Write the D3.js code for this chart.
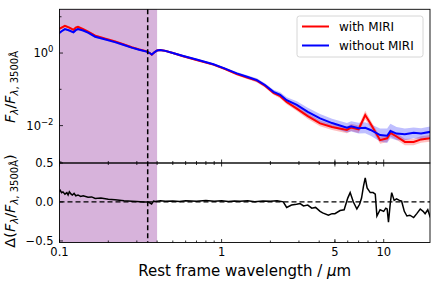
<!DOCTYPE html>
<html lang="en">
<head>
<meta charset="utf-8">
<title>SED with / without MIRI</title>
<script src="https://cdn.jsdelivr.net/npm/d3@7"></script>
<style>
  body { margin: 0; background: #fff; }
  text { font-family: "DejaVu Sans", sans-serif; fill: #000; }
</style>
</head>
<body>
<script>
// wavelength grid (micron) and log10 of normalised flux
var lamSed = [0.099, 0.103, 0.108, 0.115, 0.122, 0.126, 0.130, 0.140, 0.150, 0.166, 0.19, 0.22, 0.25, 0.279, 0.31, 0.345, 0.36, 0.371, 0.385, 0.40, 0.417, 0.45, 0.50, 0.58, 0.70, 0.89, 1.05, 1.24, 1.45, 1.65, 1.85, 2.09, 2.30, 2.52, 2.91, 3.4, 4.05, 4.8, 5.93, 6.3, 7.0, 7.69, 8.3, 9.5, 10.5, 11.0, 12.0, 13.5, 15.3, 17, 19.4];
var logWithout = [0.54, 0.60, 0.66, 0.62, 0.57, 0.63, 0.66, 0.62, 0.56, 0.45, 0.38, 0.30, 0.22, 0.15, 0.09, 0.04, 0.00, -0.04, 0.02, 0.07, 0.083, 0.06, 0.00, -0.083, -0.18, -0.31, -0.43, -0.56, -0.66, -0.745, -0.88, -1.07, -1.15, -1.30, -1.43, -1.62, -1.80, -1.93, -2.06, -2.02, -2.07, -2.06, -2.12, -2.26, -2.28, -2.15, -2.22, -2.24, -2.20, -2.22, -2.17];
var logWith = [0.66, 0.70, 0.75, 0.70, 0.64, 0.70, 0.72, 0.66, 0.59, 0.48, 0.40, 0.32, 0.235, 0.16, 0.10, 0.045, 0.00, -0.045, 0.02, 0.07, 0.083, 0.06, 0.00, -0.09, -0.19, -0.32, -0.44, -0.58, -0.68, -0.76, -0.90, -1.10, -1.19, -1.35, -1.53, -1.74, -1.94, -2.04, -2.12, -2.05, -2.10, -1.71, -1.95, -2.40, -2.35, -2.20, -2.30, -2.45, -2.45, -2.38, -2.35];
// half-width of the uncertainty bands (dex)
var errWithout = [0.03, 0.03, 0.03, 0.03, 0.03, 0.03, 0.03, 0.03, 0.03, 0.03, 0.03, 0.03, 0.03, 0.03, 0.03, 0.03, 0.03, 0.03, 0.03, 0.03, 0.03, 0.03, 0.03, 0.03, 0.03, 0.03, 0.03, 0.04, 0.04, 0.05, 0.05, 0.06, 0.07, 0.08, 0.10, 0.11, 0.12, 0.12, 0.13, 0.14, 0.15, 0.15, 0.16, 0.18, 0.20, 0.20, 0.18, 0.16, 0.15, 0.15, 0.15];
var errWith = [0.03, 0.03, 0.03, 0.03, 0.03, 0.03, 0.03, 0.03, 0.03, 0.03, 0.03, 0.03, 0.03, 0.03, 0.03, 0.03, 0.03, 0.03, 0.03, 0.03, 0.03, 0.03, 0.03, 0.03, 0.03, 0.03, 0.03, 0.04, 0.04, 0.05, 0.05, 0.05, 0.06, 0.06, 0.07, 0.08, 0.08, 0.08, 0.09, 0.10, 0.10, 0.12, 0.10, 0.10, 0.10, 0.10, 0.09, 0.09, 0.09, 0.09, 0.09];
// residual panel
var lamDelta = [0.099, 0.101, 0.103, 0.105, 0.108, 0.111, 0.113, 0.115, 0.118, 0.12, 0.123, 0.126, 0.13, 0.135, 0.14, 0.15, 0.158, 0.166, 0.18, 0.2, 0.22, 0.25, 0.28, 0.3, 0.33, 0.35, 0.36, 0.37, 0.38, 0.39, 0.42, 0.45, 0.5, 0.55, 0.6, 0.7, 0.8, 0.9, 1.0, 1.1, 1.2, 1.3, 1.45, 1.6, 1.8, 2.0, 2.2, 2.4, 2.52, 2.7, 2.9, 3.05, 3.2, 3.4, 3.6, 3.8, 4.05, 4.2, 4.56, 4.8, 5.0, 5.38, 5.7, 6.0, 6.21, 6.5, 6.83, 7.1, 7.3, 7.5, 7.69, 7.9, 8.26, 8.6, 8.87, 9.08, 9.5, 10.0, 10.3, 10.5, 10.7, 11.0, 11.2, 11.6, 12.0, 12.5, 12.9, 13.4, 13.9, 14.5, 15.3, 16, 16.8, 17.5, 18, 18.7, 19.4];
var delta = [0.13, 0.15, 0.12, 0.13, 0.10, 0.12, 0.09, 0.13, 0.10, 0.09, 0.11, 0.08, 0.09, 0.07, 0.08, 0.06, 0.065, 0.045, 0.05, 0.035, 0.03, 0.015, 0.01, 0.005, 0.0, 0.0, -0.01, -0.025, 0.01, 0.005, 0.015, 0.008, 0.012, 0.006, 0.015, 0.008, 0.018, 0.008, 0.015, 0.005, 0.012, 0.008, 0.015, 0.003, 0.012, 0.008, 0.015, 0.002, -0.07, -0.04, -0.03, -0.02, -0.05, -0.04, -0.08, -0.07, -0.12, -0.14, -0.17, -0.15, -0.15, -0.11, -0.10, 0.05, 0.12, 0.0, -0.09, -0.03, 0.05, 0.2, 0.31, 0.18, 0.12, 0.12, 0.10, -0.18, -0.1, -0.12, -0.08, -0.09, -0.26, 0.0, 0.12, 0.02, 0.04, 0.02, 0.01, -0.12, -0.18, -0.17, -0.2, -0.15, -0.09, -0.12, -0.15, -0.1, -0.2];
var lamRef = 0.35;          // 3500 A normalisation
var shadeRange = [0.1, 0.40];
var xTicks = [0.1, 1, 5, 10];
var xTickLabels = ["0.1", "1", "5", "10"];
var yBotTicks = [0.5, 0.0, -0.5];

var W = 436, H = 283;
var L = 59.5, R = 430, T = 9.3, M = 163, B = 242.5;

var svg = d3.select("body").append("svg").attr("width", W).attr("height", H);

var x = d3.scaleLog().domain([0.1, 19.3]).range([L, R]);
var yTop = d3.scaleLog().domain([Math.pow(10, -3.03), Math.pow(10, 1.205)]).range([M, T]);
var yBot = d3.scaleLinear().domain([-0.52, 0.5]).range([B, M]);

var defs = svg.append("defs");
defs.append("clipPath").attr("id", "clipTop").append("rect")
  .attr("x", L).attr("y", T).attr("width", R - L).attr("height", M - T);
defs.append("clipPath").attr("id", "clipBot").append("rect")
  .attr("x", L).attr("y", M).attr("width", R - L).attr("height", B - M);

// shaded rest-frame UV region
svg.append("rect").attr("x", x(shadeRange[0])).attr("y", T)
  .attr("width", x(shadeRange[1]) - x(shadeRange[0])).attr("height", B - T)
  .attr("fill", "#d7b3db");

var gTop = svg.append("g").attr("clip-path", "url(#clipTop)");
var sed = lamSed.map(function(l, i) {
  return { l: l, a: logWith[i], b: logWithout[i], ea: errWith[i], eb: errWithout[i] };
});

function band(key, err) {
  return d3.area()
    .x(function(d) { return x(d.l); })
    .y0(function(d) { return yTop(Math.pow(10, d[key] - d[err])); })
    .y1(function(d) { return yTop(Math.pow(10, d[key] + d[err])); });
}
function line(key) {
  return d3.line()
    .x(function(d) { return x(d.l); })
    .y(function(d) { return yTop(Math.pow(10, d[key])); });
}

gTop.append("path").datum(sed).attr("d", band("a", "ea")).attr("fill", "red").attr("opacity", 0.25);
gTop.append("path").datum(sed).attr("d", band("b", "eb")).attr("fill", "blue").attr("opacity", 0.25);
gTop.append("path").datum(sed).attr("d", line("a")).attr("fill", "none").attr("stroke", "red").attr("stroke-width", 2);
gTop.append("path").datum(sed).attr("d", line("b")).attr("fill", "none").attr("stroke", "blue").attr("stroke-width", 2);

// residuals
var gBot = svg.append("g").attr("clip-path", "url(#clipBot)");
gBot.append("line").attr("x1", L).attr("x2", R).attr("y1", yBot(0)).attr("y2", yBot(0))
  .attr("stroke", "#000").attr("stroke-width", 1.3).attr("stroke-dasharray", "5,3");
gBot.append("path").datum(lamDelta.map(function(l, i) { return [l, delta[i]]; }))
  .attr("d", d3.line().x(function(d) { return x(d[0]); }).y(function(d) { return yBot(d[1]); }))
  .attr("fill", "none").attr("stroke", "#000").attr("stroke-width", 1.5);

// 3500 A marker
svg.append("line").attr("x1", x(lamRef)).attr("x2", x(lamRef)).attr("y1", T).attr("y2", B)
  .attr("stroke", "#000").attr("stroke-width", 1.5).attr("stroke-dasharray", "5,3");

// ticks (inward)
var minorX = [];
[0.1, 1, 10].forEach(function(dec) {
  for (var k = 2; k <= 9; k++) { var v = dec * k; if (v < 19.3) minorX.push(v); }
});
var tk = svg.append("g").attr("stroke", "#000").attr("stroke-width", 0.8);
function xTickMarks(yEdge, dir) {
  xTicks.forEach(function(v) {
    tk.append("line").attr("x1", x(v)).attr("x2", x(v)).attr("y1", yEdge).attr("y2", yEdge + dir * 3.5);
  });
  minorX.forEach(function(v) {
    tk.append("line").attr("x1", x(v)).attr("x2", x(v)).attr("y1", yEdge).attr("y2", yEdge + dir * 2);
  });
}
xTickMarks(M, -1);
xTickMarks(M, 1);
xTickMarks(B, -1);

[10, 1, 0.1, 0.01, 0.001].forEach(function(v) {
  var major = (v === 1 || v === 0.01);
  tk.append("line").attr("x1", L).attr("x2", L + (major ? 3.5 : 2)).attr("y1", yTop(v)).attr("y2", yTop(v));
});
yBotTicks.forEach(function(v) {
  tk.append("line").attr("x1", L).attr("x2", L + 3.5).attr("y1", yBot(v)).attr("y2", yBot(v));
});

// frames
svg.append("rect").attr("x", L).attr("y", T).attr("width", R - L).attr("height", M - T)
  .attr("fill", "none").attr("stroke", "#000").attr("stroke-width", 0.9);
svg.append("rect").attr("x", L).attr("y", M).attr("width", R - L).attr("height", B - M)
  .attr("fill", "none").attr("stroke", "#000").attr("stroke-width", 0.9);

// tick labels
var fs = 11.5;
xTicks.forEach(function(v, i) {
  svg.append("text").attr("x", x(v)).attr("y", 256).attr("text-anchor", "middle")
    .attr("font-size", fs).text(xTickLabels[i]);
});
var topLab = [["0", 1], ["\u22122", 0.01]];
topLab.forEach(function(p) {
  var t = svg.append("text").attr("x", L - 6).attr("y", yTop(p[1]) + 4).attr("text-anchor", "end").attr("font-size", fs);
  t.append("tspan").text("10");
  t.append("tspan").attr("font-size", 8.5).attr("dy", -5).text(p[0]);
});
yBotTicks.forEach(function(v) {
  svg.append("text").attr("x", L - 6).attr("y", yBot(v) + 4).attr("text-anchor", "end")
    .attr("font-size", fs).text(d3.format(".1f")(v).replace("-", "\u2212"));
});

// axis labels
var xl = svg.append("text").attr("x", (L + R) / 2).attr("y", 276).attr("text-anchor", "middle")
  .attr("font-size", 15);
xl.append("tspan").text("Rest frame wavelength / ");
xl.append("tspan").attr("font-style", "italic").text("\u03bc");
xl.append("tspan").text("m");

function fluxLabel(t) {
  t.append("tspan").attr("font-style", "italic").text("F");
  t.append("tspan").attr("font-style", "italic").attr("font-size", 10).attr("dy", 3).text("\u03bb");
  t.append("tspan").attr("dy", -3).text("/");
  t.append("tspan").attr("font-style", "italic").text("F");
  t.append("tspan").attr("font-size", 10).attr("dy", 3)
    .html("<tspan font-style='italic'>\u03bb</tspan>, 3500\u00c5");
}
var yl1 = svg.append("text").attr("font-size", 14.5).attr("text-anchor", "middle")
  .attr("transform", "translate(14.5," + 87 + ") rotate(-90)");
fluxLabel(yl1);

var yl2 = svg.append("text").attr("font-size", 14.5).attr("text-anchor", "middle")
  .attr("transform", "translate(14.5," + 201 + ") rotate(-90)");
yl2.append("tspan").text("\u0394(");
fluxLabel(yl2);
yl2.append("tspan").attr("dy", -3).text(")");

// legend
var lg = svg.append("g").attr("transform", "translate(297,16)");
lg.append("rect").attr("width", 126).attr("height", 41).attr("rx", 2.5)
  .attr("fill", "#fff").attr("fill-opacity", 0.85).attr("stroke", "#ccc").attr("stroke-width", 0.8);
var items = [["with MIRI", "red"], ["without MIRI", "blue"]];
items.forEach(function(it, i) {
  var yy = 10.5 + i * 19;
  lg.append("line").attr("x1", 5).attr("x2", 32).attr("y1", yy).attr("y2", yy)
    .attr("stroke", it[1]).attr("stroke-width", 2);
  lg.append("text").attr("x", 42).attr("y", yy + 4.3).attr("font-size", 12).text(it[0]);
});
</script>
</body>
</html>
